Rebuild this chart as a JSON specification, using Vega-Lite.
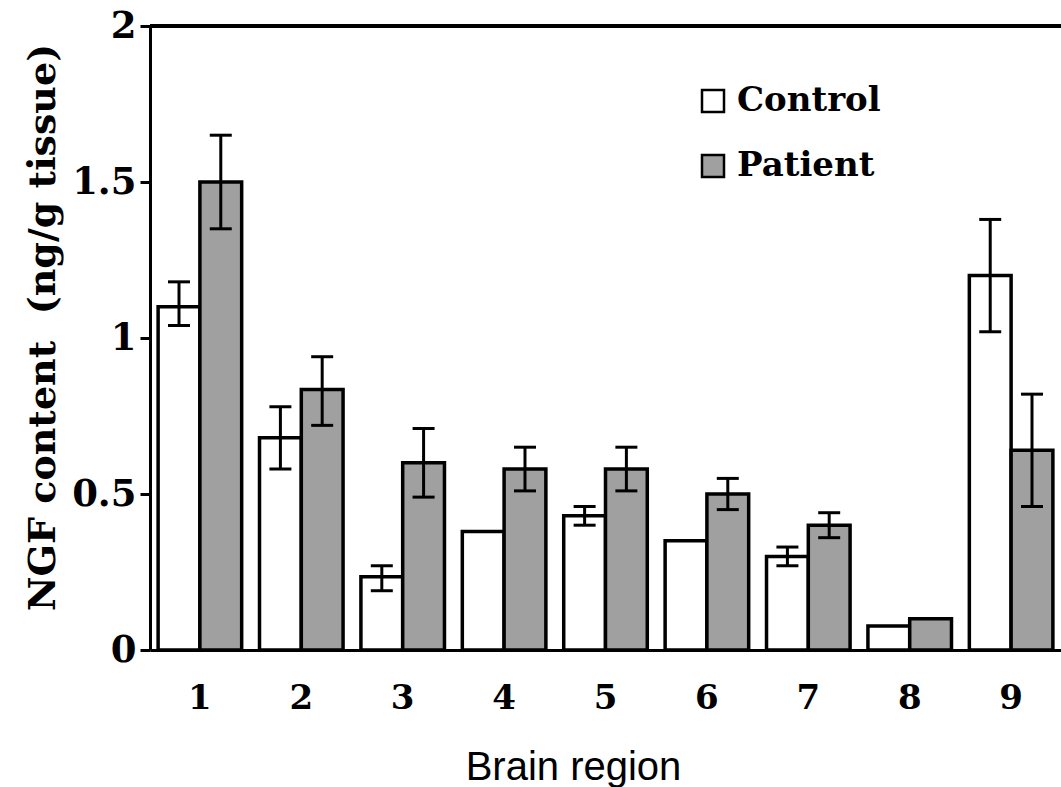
{
  "$schema": "https://vega.github.io/schema/vega-lite/v6.json",
  "autosize": "none",
  "padding": {"left": 150, "top": 26, "right": 0, "bottom": 137},
  "width": 911,
  "height": 624,
  "background": "white",
  "data": {
    "values": [
      {"region": "1", "group": "Control", "value": 1.10, "lo": 1.04, "hi": 1.18},
      {"region": "1", "group": "Patient", "value": 1.50, "lo": 1.35, "hi": 1.65},
      {"region": "2", "group": "Control", "value": 0.68, "lo": 0.58, "hi": 0.78},
      {"region": "2", "group": "Patient", "value": 0.835, "lo": 0.72, "hi": 0.94},
      {"region": "3", "group": "Control", "value": 0.235, "lo": 0.19, "hi": 0.27},
      {"region": "3", "group": "Patient", "value": 0.60, "lo": 0.49, "hi": 0.71},
      {"region": "4", "group": "Control", "value": 0.38, "lo": null, "hi": null},
      {"region": "4", "group": "Patient", "value": 0.58, "lo": 0.51, "hi": 0.65},
      {"region": "5", "group": "Control", "value": 0.43, "lo": 0.40, "hi": 0.46},
      {"region": "5", "group": "Patient", "value": 0.58, "lo": 0.51, "hi": 0.65},
      {"region": "6", "group": "Control", "value": 0.35, "lo": null, "hi": null},
      {"region": "6", "group": "Patient", "value": 0.50, "lo": 0.45, "hi": 0.55},
      {"region": "7", "group": "Control", "value": 0.30, "lo": 0.27, "hi": 0.33},
      {"region": "7", "group": "Patient", "value": 0.40, "lo": 0.36, "hi": 0.44},
      {"region": "8", "group": "Control", "value": 0.077, "lo": null, "hi": null},
      {"region": "8", "group": "Patient", "value": 0.10, "lo": null, "hi": null},
      {"region": "9", "group": "Control", "value": 1.20, "lo": 1.02, "hi": 1.38},
      {"region": "9", "group": "Patient", "value": 0.64, "lo": 0.46, "hi": 0.82}
    ]
  },
  "encoding": {
    "x": {
      "field": "region",
      "type": "nominal",
      "sort": null,
      "scale": {"paddingInner": 0.176, "paddingOuter": 0.08},
      "axis": {
        "title": "Brain region",
        "labelAngle": 0,
        "labelFont": "DejaVu Serif",
        "labelFontWeight": "bold",
        "labelFontSize": 34,
        "labelColor": "black",
        "labelPadding": 31,
        "ticks": false,
        "domainColor": "black",
        "domainWidth": 3,
        "grid": false,
        "titleFont": "Liberation Sans",
        "titleFontSize": 40,
        "titleFontWeight": "normal",
        "titleColor": "black",
        "titleX": 423,
        "titleY": 129,
        "titleAnchor": null,
        "titleAlign": "center",
        "titleBaseline": "alphabetic"
      }
    },
    "xOffset": {
      "field": "group",
      "type": "nominal",
      "scale": {"paddingInner": 0, "paddingOuter": 0}
    }
  },
  "layer": [
    {
      "mark": {"type": "bar", "stroke": "black", "strokeWidth": 3.5, "opacity": 1},
      "encoding": {
        "y": {
          "field": "value",
          "type": "quantitative",
          "scale": {"domain": [0, 2], "nice": false},
          "axis": {
            "title": "NGF content\u00a0 (ng/g tissue)",
            "values": [0, 0.5, 1, 1.5, 2],
            "format": "~g",
            "grid": false,
            "labelFont": "DejaVu Serif",
            "labelFontWeight": "bold",
            "labelFontSize": 37,
            "labelColor": "black",
            "labelPadding": 4,
            "tickSize": 10,
            "tickWidth": 3,
            "tickColor": "black",
            "domainColor": "black",
            "domainWidth": 3,
            "titleFont": "DejaVu Serif",
            "titleFontWeight": "bold",
            "titleFontSize": 38,
            "titleColor": "black",
            "titleAngle": -90,
            "titleX": -107,
            "titleY": 301,
            "titleAlign": "center",
            "titleBaseline": "middle"
          }
        },
        "fill": {
          "field": "group",
          "type": "nominal",
          "scale": {"domain": ["Control", "Patient"], "range": ["white", "#a0a0a0"]},
          "legend": {
            "title": null,
            "orient": "none",
            "legendX": 546,
            "legendY": 58,
            "padding": 0,
            "symbolType": "square",
            "symbolSize": 484,
            "symbolStrokeColor": "black",
            "symbolStrokeWidth": 2.5,
            "symbolOpacity": 1,
            "labelFont": "DejaVu Serif",
            "labelFontWeight": "bold",
            "labelFontSize": 34,
            "labelColor": "black",
            "labelOffset": 7,
            "rowPadding": 31
          }
        }
      }
    },
    {
      "mark": {"type": "rule", "color": "black", "strokeWidth": 3},
      "encoding": {
        "y": {"field": "lo", "type": "quantitative"},
        "y2": {"field": "hi"}
      }
    },
    {
      "mark": {"type": "tick", "color": "black", "thickness": 3, "size": 22, "opacity": 1},
      "encoding": {
        "y": {"field": "hi", "type": "quantitative"}
      }
    },
    {
      "mark": {"type": "tick", "color": "black", "thickness": 3, "size": 22, "opacity": 1},
      "encoding": {
        "y": {"field": "lo", "type": "quantitative"}
      }
    },
    {
      "mark": {"type": "rule", "color": "black", "strokeWidth": 3},
      "encoding": {
        "y": {"datum": 2},
        "x": null,
        "xOffset": null
      }
    }
  ],
  "config": {
    "view": {"stroke": null}
  }
}
